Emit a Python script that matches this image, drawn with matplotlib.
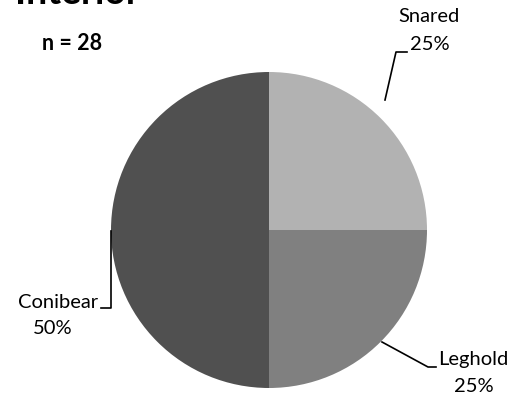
import matplotlib
matplotlib.use("Agg")
import matplotlib.pyplot as plt

categories = ["Snared", "Leghold", "Conibear"]
values = [25, 25, 50]
colors = ["#b2b2b2", "#808080", "#505050"]
title = "Interior"
n_label = "n = 28"

W, H = 513, 401
fig = plt.figure(figsize=(W / 100, H / 100), dpi=100)
ax = fig.add_axes([0, 0, 1, 1])
ax.axis("off")

cx, cy, r = 269, H - 230, 158
ax.pie(values, colors=colors, startangle=90, counterclock=False,
       center=(cx, cy), radius=r, frame=False,
       wedgeprops=dict(linewidth=0))
ax.set_xlim(0, W)
ax.set_ylim(0, H)
ax.set_aspect("auto")

font = "Lato"
fs = 14.5
total = sum(values)
pct = [f"{v / total * 100:.0f}%" for v in values]

def Y(y):
    return H - y

# Snared
ax.plot([385, 396, 407], [Y(100), Y(52), Y(52)], color="black", lw=1.2)
ax.text(429, Y(17), categories[0], ha="center", va="center", fontsize=fs, family=font)
ax.text(430, Y(44), pct[0], ha="center", va="center", fontsize=fs, family=font)
# Leghold
ax.plot([382, 428, 436], [Y(342), Y(367), Y(367)], color="black", lw=1.2)
ax.text(438, Y(360), categories[1], ha="left", va="center", fontsize=fs, family=font)
ax.text(474, Y(386), pct[1], ha="center", va="center", fontsize=fs, family=font)
# Conibear
ax.plot([111, 111, 101], [Y(231), Y(308), Y(308)], color="black", lw=1.2)
ax.text(98, Y(302), categories[2], ha="right", va="center", fontsize=fs, family=font)
ax.text(53, Y(328), pct[2], ha="center", va="center", fontsize=fs, family=font)

ax.text(72, Y(43), n_label, ha="center", va="center", fontsize=15.5, family=font, fontweight="bold")
ax.text(15, Y(4), title, ha="left", va="baseline", fontsize=27, family=font, fontweight="bold")

fig.savefig("out.png", dpi=100)
